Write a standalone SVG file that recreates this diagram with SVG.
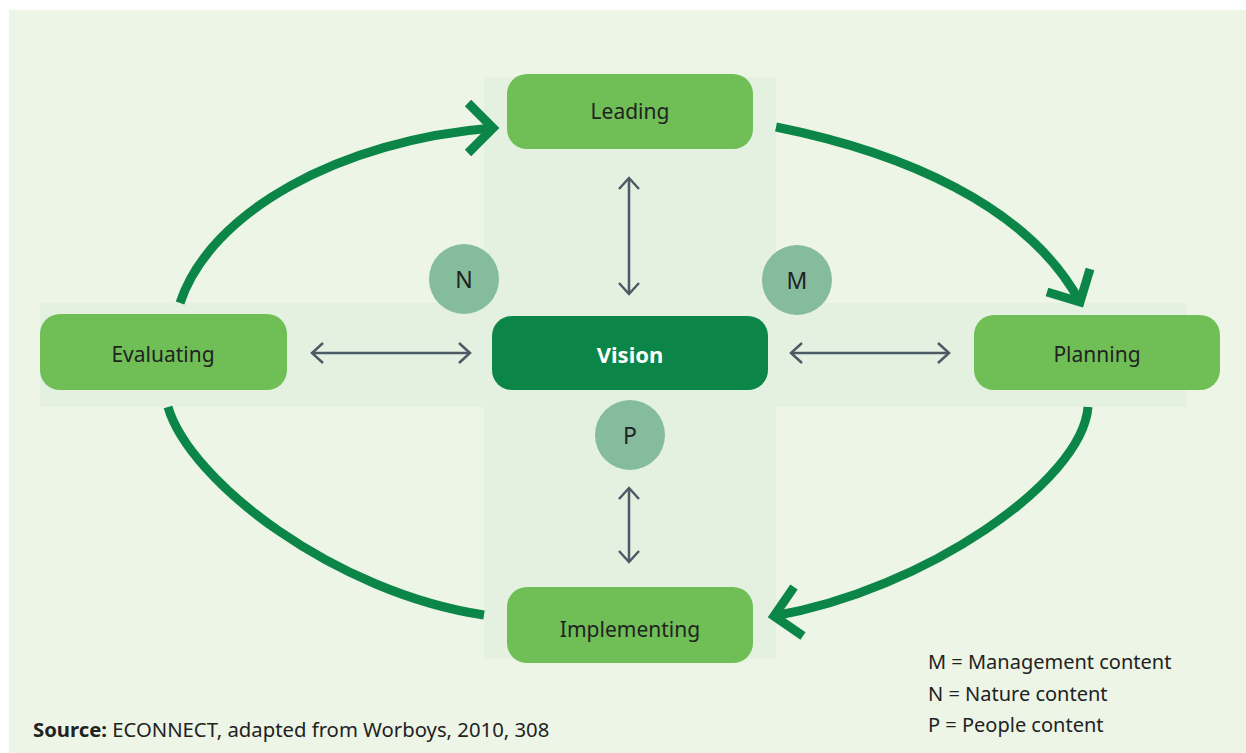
<svg xmlns="http://www.w3.org/2000/svg" width="1246" height="753" viewBox="0 0 1246 753">
<defs>
<style>
.bg{fill:#EDF5E6}
.band{fill:#E4F0E0}
.node{fill:#6FBF56}
.vision{fill:#0B8648}
.circ{fill:#84BC9C}
.lbl{font-family:"Noto Sans","Open Sans",sans-serif;font-size:21px;fill:#222222;text-anchor:middle}
.clbl{font-family:"Noto Sans","Open Sans",sans-serif;font-size:23px;fill:#222222;text-anchor:middle}
.vlbl{font-family:"Noto Sans","Open Sans",sans-serif;font-size:22px;font-weight:bold;fill:#FFFFFF;text-anchor:middle}
.leg{font-family:"Noto Sans","Open Sans",sans-serif;font-size:20px;fill:#222222}
.src{font-family:"Noto Sans","Open Sans",sans-serif;font-size:20.3px;fill:#222222}
.arc{fill:none;stroke:#0B8648;stroke-width:9;stroke-linecap:butt}
.head{fill:none;stroke:#0B8648;stroke-width:9;stroke-linejoin:miter;stroke-miterlimit:4}
.dbl{fill:none;stroke:#4C5A66;stroke-width:2.5;marker-start:url(#ah);marker-end:url(#ah)}
</style>
<marker id="ah" markerUnits="userSpaceOnUse" viewBox="-14 -12 16 24" refX="0" refY="0" markerWidth="16" markerHeight="24" orient="auto-start-reverse">
<path d="M-11,-10 L0,0 L-11,10" fill="none" stroke="#4C5A66" stroke-width="2.5"/>
</marker>
</defs>
<rect x="0" y="0" width="1246" height="753" fill="#FFFFFF"/>
<rect class="bg" x="9" y="10" width="1237" height="743"/>
<g id="bands">
<rect class="band" x="484" y="77" width="292" height="582"/>
<rect class="band" x="40" y="303" width="1146" height="104"/>
</g>
<g id="connectors">
<path class="arc" d="M180,303 C210,212 340,140 493,128"/>
<polyline class="head" points="468,103 493,128 468,153"/>
<path class="arc" d="M776,127 C901,152 1028,205 1080,302"/>
<polyline class="head" points="1047,292 1080,302 1090,269"/>
<path class="arc" d="M1088,407 C1082,482 924,590 774,616"/>
<polyline class="head" points="794,587 774,616 803,636"/>
<path class="arc" d="M168,407 C190,482 336,593 484,615"/>
<line class="dbl" x1="312" y1="353" x2="470" y2="353"/>
<line class="dbl" x1="791" y1="353" x2="949" y2="353"/>
<line class="dbl" x1="629" y1="178" x2="629" y2="294"/>
<line class="dbl" x1="629" y1="488" x2="629" y2="562"/>
</g>
<g id="node-leading">
<rect class="node" x="507" y="74" width="246" height="75" rx="20"/>
<text class="lbl" x="630" y="119">Leading</text>
</g>
<g id="node-evaluating">
<rect class="node" x="40" y="314" width="247" height="76" rx="20"/>
<text class="lbl" x="163" y="362">Evaluating</text>
</g>
<g id="node-vision">
<rect class="vision" x="492" y="316" width="276" height="74" rx="20"/>
<text class="vlbl" x="630" y="363">Vision</text>
</g>
<g id="node-planning">
<rect class="node" x="974" y="315" width="246" height="75" rx="20"/>
<text class="lbl" x="1097" y="362">Planning</text>
</g>
<g id="node-implementing">
<rect class="node" x="507" y="587" width="246" height="76" rx="20"/>
<text class="lbl" x="630" y="637">Implementing</text>
</g>
<g id="node-n">
<circle class="circ" cx="464" cy="279" r="35"/>
<text class="clbl" x="464" y="288">N</text>
</g>
<g id="node-m">
<circle class="circ" cx="797" cy="280" r="35"/>
<text class="clbl" x="797" y="289">M</text>
</g>
<g id="node-p">
<circle class="circ" cx="630" cy="435" r="35"/>
<text class="clbl" x="630" y="444">P</text>
</g>
<g id="legend">
<text class="leg" x="928" y="669">M = Management content</text>
<text class="leg" x="928" y="701">N = Nature content</text>
<text class="leg" x="928" y="732">P = People content</text>
</g>
<text class="src" x="33" y="737"><tspan font-weight="bold">Source:</tspan> ECONNECT, adapted from Worboys, 2010, 308</text>
</svg>
